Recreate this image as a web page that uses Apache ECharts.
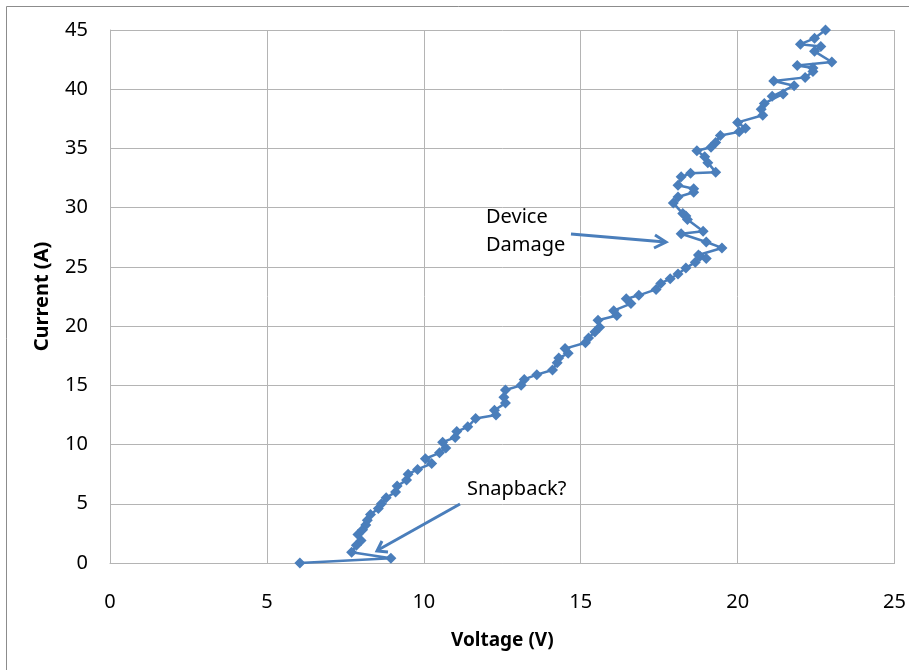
<!DOCTYPE html>
<html>
<head>
<meta charset="utf-8">
<script src="https://cdn.jsdelivr.net/npm/echarts@6/dist/echarts.min.js"></script>
<style>html,body{margin:0;padding:0;background:#fff}#c{width:909px;height:670px}</style>
</head>
<body>
<div id="c"></div>
<script>
const voltage = [6.05, 8.95, 7.7, 7.85, 8.0, 7.9, 8.05, 8.15, 8.2, 8.3, 8.55, 8.65, 8.8, 9.1, 9.15, 9.45, 9.5, 9.8, 10.25, 10.05,
  10.5, 10.7, 10.6, 11.0, 11.05, 11.4, 11.65, 12.3, 12.25, 12.6, 12.55, 12.6, 13.1, 13.2, 13.6, 14.1, 14.25, 14.3, 14.6, 14.5,
  15.15, 15.25, 15.45, 15.6, 15.55, 16.15, 16.05, 16.6, 16.45, 16.85, 17.4, 17.55, 17.85, 18.1, 18.35, 18.65, 18.8, 19.0, 18.75, 19.5,
  19.0, 18.2, 18.9, 18.4, 18.35, 18.25, 17.95, 18.1, 18.6, 18.6, 18.1, 18.2, 18.5, 19.3, 19.05, 18.95, 18.7, 19.15, 19.3, 19.45,
  20.05, 20.25, 20.0, 20.8, 20.75, 20.85, 21.45, 21.1, 21.8, 21.15, 22.15, 22.4, 22.4, 21.9, 23.0, 22.45, 22.65, 22.0, 22.45, 22.8];
const current = [0.0, 0.4, 0.9, 1.5, 1.9, 2.4, 2.8, 3.2, 3.6, 4.1, 4.6, 5.0, 5.5, 6.0, 6.5, 7.0, 7.5, 7.9, 8.4, 8.8,
  9.3, 9.7, 10.2, 10.6, 11.1, 11.5, 12.2, 12.5, 12.9, 13.5, 14.0, 14.6, 15.0, 15.5, 15.9, 16.3, 16.9, 17.3, 17.7, 18.1,
  18.6, 19.0, 19.5, 19.9, 20.5, 20.9, 21.3, 21.9, 22.3, 22.6, 23.1, 23.6, 24.0, 24.4, 24.9, 25.4, 25.9, 25.7, 26.0, 26.6,
  27.1, 27.8, 28.0, 29.0, 29.3, 29.5, 30.4, 30.9, 31.3, 31.6, 31.9, 32.6, 32.9, 33.0, 33.8, 34.3, 34.8, 35.1, 35.5, 36.1,
  36.4, 36.7, 37.2, 37.8, 38.3, 38.8, 39.6, 39.4, 40.3, 40.7, 41.0, 41.5, 41.8, 42.0, 42.3, 43.2, 43.6, 43.8, 44.3, 45.0];
const xTitle = 'Voltage (V)';
const yTitle = 'Current (A)';
const noteDamage = ['Device', 'Damage'];
const noteSnap = 'Snapback?';

const chart = echarts.init(document.getElementById('c'), null, {renderer: 'canvas'});
const FONT = '"Noto Sans", "Open Sans", sans-serif';
const BLUE = '#4a7ebb';
const GRID = '#b4b4b4';
const pts = voltage.map((v, i) => [v, current[i]]);

chart.setOption({
  animation: false,
  backgroundColor: '#fff',
  grid: {left: 110, right: 12, top: 30, bottom: 107},
  xAxis: {
    type: 'value', min: 0, max: 25, interval: 5,
    name: xTitle, nameLocation: 'middle', nameGap: 68,
    nameTextStyle: {fontFamily: FONT, fontSize: 19, fontWeight: 'bold', color: '#000'},
    axisLine: {show: true, lineStyle: {color: GRID, width: 1}},
    axisTick: {show: false},
    axisLabel: {fontFamily: FONT, fontSize: 20, color: '#000', margin: 29},
    splitLine: {show: true, lineStyle: {color: GRID, width: 1}}
  },
  yAxis: {
    type: 'value', min: 0, max: 45, interval: 5,
    name: yTitle, nameLocation: 'middle', nameGap: 58, nameRotate: 90,
    nameTextStyle: {fontFamily: FONT, fontSize: 20, fontWeight: 'bold', color: '#000'},
    axisLine: {show: true, onZero: false, lineStyle: {color: GRID, width: 1}},
    axisTick: {show: false},
    axisLabel: {fontFamily: FONT, fontSize: 20, color: '#000', margin: 22},
    splitLine: {show: true, lineStyle: {color: GRID, width: 1}}
  },
  series: [{
    type: 'line',
    data: pts,
    symbol: 'diamond',
    symbolSize: 11,
    showAllSymbol: true,
    clip: false,
    lineStyle: {color: BLUE, width: 2.5},
    itemStyle: {color: BLUE, borderColor: BLUE, borderWidth: 0},
    emphasis: {disabled: true}
  }],
  graphic: [
    {type: 'rect', shape: {x: 6.5, y: 6.5, width: 1000, height: 1000},
     style: {fill: 'none', stroke: '#8c8c8c', lineWidth: 1}, silent: true, z: 100},
    {type: 'text', left: 486, top: 207, style: {text: noteDamage[0], font: '20px ' + FONT, fill: '#000'}, z: 100},
    {type: 'text', left: 486, top: 235, style: {text: noteDamage[1], font: '20px ' + FONT, fill: '#000'}, z: 100},
    {type: 'polyline', shape: {points: [[571, 234], [665, 242]]}, style: {stroke: BLUE, lineWidth: 3, fill: 'none'}, z: 100},
    {type: 'polyline', shape: {points: [[655, 235], [666, 242], [654, 248]]}, style: {stroke: BLUE, lineWidth: 3, fill: 'none', lineJoin: 'miter'}, z: 100},
    {type: 'text', left: 467, top: 479, style: {text: noteSnap, font: '20px ' + FONT, fill: '#000'}, z: 100},
    {type: 'polyline', shape: {points: [[460, 504], [378, 550]]}, style: {stroke: BLUE, lineWidth: 3, fill: 'none'}, z: 100},
    {type: 'polyline', shape: {points: [[382, 541], [377, 551], [388, 552]]}, style: {stroke: BLUE, lineWidth: 3, fill: 'none', lineJoin: 'miter'}, z: 100}
  ]
});
</script>
</body>
</html>
